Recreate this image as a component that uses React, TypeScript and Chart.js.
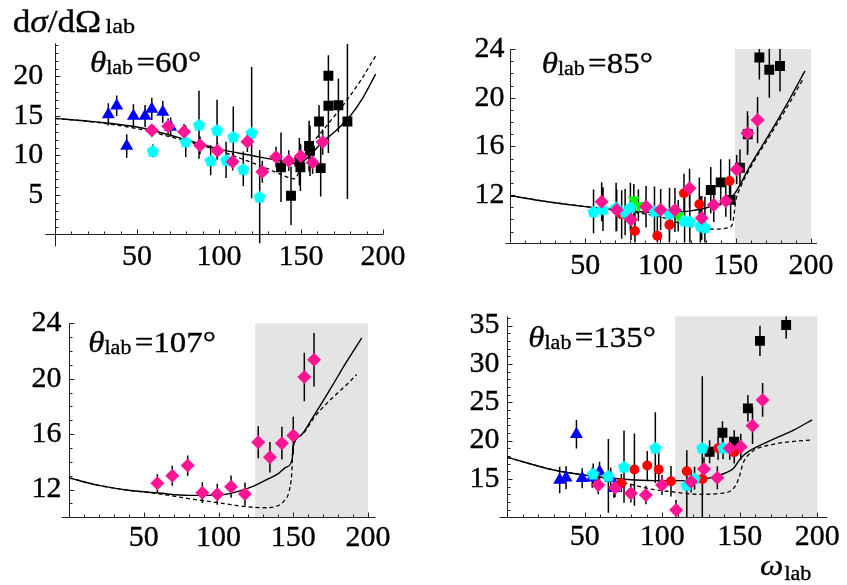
import React, { useEffect, useRef } from 'react';
import { Chart, registerables } from 'chart.js';
Chart.register(...registerables);

// ---------- Panel θ=60° ----------
const t60BlueX = [32.5, 37.6, 43.7, 47.8, 54.9, 59.0, 65.7, 70.5];
const t60BlueY = [15.2, 16.3, 11.2, 15.0, 15.0, 15.9, 15.5, 13.6];
const t60BlueErr = [1.4, 1.3, 1.5, 1.5, 1.4, 1.4, 1.4, 1.2];
const t60CyanX = [59.6, 79.7, 87.8, 94.9, 98.8, 104.3, 108.7, 114.8, 119.9, 124.8];
const t60CyanY = [10.6, 11.8, 13.9, 9.4, 13.25, 9.45, 12.4, 8.3, 12.9, 4.8];
const t60CyanErr = [0.8, 2.0, 4.3, 1.9, 3.8, 2.3, 3.8, 2.2, 8.3, 5.9];
const t60MagX = [59, 69, 78.7, 88.4, 99, 108.3, 117.3, 126.4, 134.8, 142.5, 149.8, 157.1, 163.2];
const t60MagY = [13.2, 13.7, 13.0, 11.3, 10.6, 9.2, 11.75, 7.95, 9.8, 9.35, 9.9, 9.1, 11.7];
const t60MagErr = [0.8, 1.0, 1.0, 1.1, 1.1, 1.1, 1.3, 1.4, 1.3, 1.3, 1.4, 1.4, 1.6];
const t60BlackX = [137.8, 143.9, 149.0, 149.6, 154.9, 155.5, 161.0, 162.0, 166.7, 166.7, 172.8, 178.3];
const t60BlackY = [8.5, 4.9, 9.2, 8.5, 11.2, 10.6, 14.3, 8.4, 20.1, 16.3, 16.35, 14.3];
const t60BlackErr = [4.4, 3.7, 3.0, 3.0, 3.2, 3.2, 2.1, 3.6, 2.6, 6.0, 3.4, 9.8];
const t60SolidX = [0, 25, 50, 75, 100, 120, 135, 148, 155, 162, 170, 180, 188, 195.5];
const t60SolidY = [14.7, 14.25, 13.6, 12.3, 10.8, 10.0, 9.4, 8.95, 9.9, 11.5, 12.9, 15.0, 17.4, 20.3];
const t60DashX = [0, 25, 50, 75, 100, 120, 130, 140, 146, 150, 155, 165, 178, 187, 195.5];
const t60DashY = [14.7, 14.2, 13.4, 12.1, 10.6, 9.1, 8.3, 7.4, 7.05, 8.5, 10.9, 13.6, 17.0, 19.7, 22.6];

// ---------- Panel θ=85° ----------
const t85RedX = [74.2, 83.0, 97.9, 105.9, 115.6, 125.8, 145.9];
const t85RedY = [10.4, 9.05, 8.65, 9.55, 12.15, 11.25, 13.15];
const t85RedErr = [2.0, 2.1, 2.3, 2.0, 1.6, 2.2, 1.8];
const t85CyanX = [55.5, 61.8, 70.5, 76.5, 80.0, 96.0, 106.0, 116.0, 119.5, 126.5, 129.5];
const t85CyanY = [10.65, 10.85, 11.0, 10.6, 11.0, 10.7, 10.5, 9.9, 9.85, 9.5, 9.35];
const t85CyanErr = [1.8, 1.8, 2.0, 1.9, 2.0, 2.0, 2.1, 2.0, 2.2, 2.4, 2.5];
const t85GreenX = [82.3, 85.3, 111.8];
const t85GreenY = [11.6, 11.15, 10.3];
const t85GreenErr = [1.3, 1.3, 1.3];
const t85MagX = [60.9, 70.9, 80.4, 90.4, 100.1, 109.6, 119.3, 127.4, 135.4, 143.4, 150.6, 157.8, 164.5];
const t85MagY = [11.45, 10.77, 10.0, 11.04, 10.8, 10.77, 12.55, 10.12, 11.18, 11.52, 14.1, 17.08, 18.16];
const t85MagErr = [1.6, 1.7, 1.7, 1.7, 1.7, 1.8, 1.6, 1.8, 1.4, 1.3, 1.2, 1.8, 1.9];
const t85BlackX = [133.4, 140.0, 146.6, 152.8, 158.0, 165.7, 172.3, 179.4];
const t85BlackY = [12.41, 13.04, 11.6, 14.24, 17.0, 23.3, 22.3, 22.6];
const t85BlackErr = [1.9, 1.9, 1.7, 1.5, 1.5, 1.8, 2.3, 2.1];
const t85SolidX = [0, 25, 50, 75, 100, 120, 135, 145, 149.5, 160, 172.8, 185, 196];
const t85SolidY = [11.95, 11.45, 11.05, 10.75, 10.55, 10.7, 11.1, 11.6, 12.15, 14.5, 17.1, 19.7, 22.2];
const t85DashX = [0, 25, 50, 75, 100, 115, 125, 135, 145, 148, 150, 153, 160, 172.8, 185, 195];
const t85DashY = [11.95, 11.45, 11.05, 10.7, 10.2, 9.6, 9.3, 9.2, 9.3, 9.7, 11.5, 12.6, 14.3, 16.9, 19.4, 21.6];

// ---------- Panel θ=107° ----------
const t107MagX = [59.1, 69.1, 79.4, 89.2, 99.2, 108.4, 117.7, 126.6, 134.4, 142.4, 150.0, 157.4, 163.9];
const t107MagY = [12.46, 13.0, 13.73, 11.78, 11.66, 12.21, 11.68, 15.42, 14.34, 15.35, 15.9, 20.12, 21.37];
const t107MagErr = [0.65, 0.72, 0.73, 0.75, 0.76, 0.8, 0.84, 1.15, 1.1, 1.18, 1.35, 1.75, 1.93];
const t107SolidX = [0, 20, 40, 60, 80, 100, 120, 132, 140, 145, 149.3, 149.8, 155, 163.4, 175, 185, 195.8];
const t107SolidY = [12.85, 12.3, 11.95, 11.75, 11.58, 11.6, 12.1, 12.7, 13.15, 13.6, 14.2, 15.0, 15.9, 17.27, 19.3, 21.1, 22.94];
const t107DashX = [0, 20, 40, 60, 80, 100, 118, 131, 139, 144, 147, 149, 149.8, 155, 165, 175, 185, 192.4];
const t107DashY = [12.85, 12.3, 11.95, 11.7, 11.35, 11.05, 10.77, 10.69, 10.8, 11.2, 11.8, 13.2, 15.0, 15.9, 17.35, 18.5, 19.5, 20.3];

// ---------- Panel θ=135° ----------
const t135BlueX = [33.8, 37.9, 44.6, 48.3, 54.8, 59.5, 66.7, 68.8];
const t135BlueY = [14.86, 15.16, 20.82, 15.08, 15.16, 15.95, 15.08, 13.8];
const t135BlueErr = [1.74, 1.5, 1.85, 1.3, 1.3, 1.3, 1.4, 1.3];
const t135RedX = [73.6, 82.0, 90.3, 97.7, 105.6, 115.8, 125.9, 136.0, 146.4];
const t135RedY = [14.45, 16.22, 16.75, 16.22, 14.7, 16.0, 15.0, 19.0, 18.5];
const t135RedErr = [1.2, 4.7, 1.9, 2.2, 2.0, 2.7, 2.0, 1.5, 1.5];
const t135CyanX = [55.4, 65.2, 75.3, 95.5, 115.8, 120.8, 125.8, 139.2];
const t135CyanY = [15.7, 15.4, 16.6, 19.08, 14.25, 15.08, 19.08, 19.08];
const t135CyanErr = [1.3, 4.8, 4.7, 4.6, 4.5, 1.5, 9.3, 1.5];
const t135MagX = [58.7, 69.5, 79.7, 89.4, 99.8, 108.9, 118.6, 126.9, 135.5, 143.5, 150.6, 158.2, 164.7];
const t135MagY = [14.21, 13.86, 13.13, 12.9, 14.21, 10.95, 14.64, 16.3, 15.16, 19.0, 19.2, 21.94, 25.3];
const t135MagErr = [1.2, 1.2, 1.2, 1.2, 1.3, 1.3, 1.4, 1.5, 1.5, 1.5, 1.7, 2.4, 2.2];
const t135BlackX = [130.5, 138.8, 146.4, 155.2, 163.0, 179.9];
const t135BlackY = [18.55, 21.03, 19.86, 24.2, 33.0, 35.07];
const t135BlackErr = [1.5, 1.5, 1.5, 1.74, 1.96, 1.75];
const t135SolidX = [0, 30, 52.6, 73.2, 94.8, 116.5, 129.5, 140.3, 146, 149, 151, 155.5, 170.6, 185, 196.6];
const t135SolidY = [17.82, 16.17, 15.42, 15.0, 14.78, 14.78, 15.08, 15.74, 16.4, 17.25, 17.8, 18.55, 20.08, 21.4, 22.7];
const t135DashX = [0, 30, 52.6, 73.2, 94.8, 105.6, 123, 138.1, 146.8, 150, 152, 157.6, 172.7, 185, 196.6];
const t135DashY = [17.82, 16.17, 15.4, 14.6, 13.6, 13.34, 13.0, 13.13, 14.0, 15.5, 17.0, 18.5, 19.56, 19.9, 20.08];

// tick labels
const xTickLabels = [50, 100, 150, 200];
const t60YTicks = [5, 10, 15, 20];
const t85YTicks = [12, 16, 20, 24];
const t107YTicks = [12, 16, 20, 24];
const t135YTicks = [15, 20, 25, 30, 35];

const SERIF = '"Liberation Serif", "Times New Roman", serif';
const MAIN = `30px ${SERIF}`;
const ITAL = `italic 30px ${SERIF}`;
const SUB = `20px ${SERIF}`;
const TMAIN = `32px ${SERIF}`;
const TITAL = `italic 32px ${SERIF}`;
const TSUB = `22px ${SERIF}`;
const MAG = '#ff1493';
const CYAN = '#00ffff';
const STROKE_W = 0.35;

function pts(xs: number[], ys: number[]) {
  return xs.map((x, i) => ({ x, y: ys[i] }));
}

function makePentagon(color: string, r: number) {
  const c = document.createElement('canvas');
  const s = Math.ceil(r * 2 + 2);
  c.width = s;
  c.height = s;
  const ctx = c.getContext('2d')!;
  ctx.fillStyle = color;
  ctx.beginPath();
  for (let i = 0; i < 5; i++) {
    const a = -Math.PI / 2 + (i * 2 * Math.PI) / 5;
    const px = s / 2 + r * Math.cos(a);
    const py = s / 2 + r * Math.sin(a) + r * 0.1;
    if (i) ctx.lineTo(px, py);
    else ctx.moveTo(px, py);
  }
  ctx.closePath();
  ctx.fill();
  return c;
}

function drawRich(ctx: CanvasRenderingContext2D, x: number, y: number, parts: any[]) {
  ctx.save();
  ctx.translate(x, y);
  ctx.scale(1.1, 1);
  ctx.fillStyle = '#000';
  ctx.strokeStyle = '#000';
  ctx.lineWidth = STROKE_W;
  ctx.textBaseline = 'alphabetic';
  ctx.textAlign = 'left';
  let cx = 0;
  for (const p of parts) {
    ctx.font = p.f;
    cx += p.dx || 0;
    ctx.fillText(p.t, cx, p.dy || 0);
    ctx.strokeText(p.t, cx, p.dy || 0);
    cx += ctx.measureText(p.t).width;
  }
  ctx.restore();
}

function thetaLabel(angle: string) {
  return [
    { t: 'θ', f: ITAL },
    { t: 'lab', f: SUB, dy: 2 },
    { t: '=' + angle + '°', f: MAIN, dx: 3 },
  ];
}

const AXIS_W = 44;
const AXIS_H = 60;

function buildConfig(p: any, styles: any) {
  const datasets: any[] = p.series.map((s: any) => {
    const st = styles[s.kind];
    return {
      data: pts(s.x, s.y),
      errs: s.e,
      pointStyle: st.style,
      pointRadius: st.r,
      pointHoverRadius: st.r,
      pointRotation: st.rot || 0,
      backgroundColor: st.color,
      borderColor: st.color,
      pointBorderWidth: 0,
      borderWidth: 0,
      showLine: false,
    };
  });
  datasets.push({
    data: pts(p.solid[0], p.solid[1]),
    showLine: true,
    borderColor: '#000',
    borderWidth: 1.4,
    pointRadius: 0,
    cubicInterpolationMode: 'monotone',
    fill: false,
  });
  datasets.push({
    data: pts(p.dash[0], p.dash[1]),
    showLine: true,
    borderColor: '#000',
    borderWidth: 1.3,
    borderDash: [4, 3],
    pointRadius: 0,
    cubicInterpolationMode: 'monotone',
    fill: false,
  });

  const a = p.area;
  const decor = {
    id: 'decor',
    beforeDatasetsDraw(chart: any) {
      const { ctx, chartArea: ca, scales } = chart;
      const xs = scales.x;
      const ys = scales.y;
      ctx.save();
      const ay = Math.round(ys.getPixelForValue(p.axisY)) + 0.5;
      const ax = Math.round(xs.getPixelForValue(0)) + 0.5;
      if (p.shadeFrom != null) {
        const x0 = xs.getPixelForValue(p.shadeFrom);
        const x1 = xs.getPixelForValue(200);
        ctx.fillStyle = '#e4e4e4';
        ctx.fillRect(x0, ca.top, x1 - x0, ay - ca.top);
      }
      ctx.strokeStyle = '#222';
      ctx.lineWidth = 1;
      ctx.beginPath();
      ctx.moveTo(ca.left, ay);
      ctx.lineTo(ca.right, ay);
      ctx.moveTo(ax, ca.top);
      ctx.lineTo(ax, ca.bottom);
      for (let v = 10; v <= 200; v += 10) {
        const px = Math.round(xs.getPixelForValue(v)) + 0.5;
        const len = v % 50 === 0 ? 5 : 3;
        ctx.moveTo(px, ay);
        ctx.lineTo(px, ay - len);
      }
      for (let v = Math.ceil(p.yr[0]); v <= p.yr[1]; v += 1) {
        if (v <= p.axisY) continue;
        const py = Math.round(ys.getPixelForValue(v)) + 0.5;
        const len = v % p.yMajor === 0 ? 5 : 3;
        ctx.moveTo(ax, py);
        ctx.lineTo(ax + len, py);
      }
      ctx.stroke();
      // error bars
      ctx.beginPath();
      ctx.rect(ca.left, ca.top, ca.right - ca.left, ca.bottom - ca.top);
      ctx.clip();
      ctx.strokeStyle = '#000';
      ctx.lineWidth = 1.5;
      ctx.beginPath();
      chart.data.datasets.forEach((ds: any) => {
        if (!ds.errs) return;
        ds.data.forEach((pt: any, i: number) => {
          const e = ds.errs[i];
          const px = xs.getPixelForValue(pt.x);
          ctx.moveTo(px, ys.getPixelForValue(pt.y - e));
          ctx.lineTo(px, ys.getPixelForValue(pt.y + e));
        });
      });
      ctx.stroke();
      ctx.restore();
    },
    afterDraw(chart: any) {
      const ctx = chart.ctx;
      for (const t of p.texts) drawRich(ctx, t.x, t.y, t.parts);
    },
  };

  const tickFont = { family: SERIF, size: 30 };
  return {
    type: 'scatter' as const,
    data: { datasets },
    options: {
      responsive: false,
      animation: false as const,
      events: [],
      layout: {
        padding: { left: a.l - AXIS_W, right: 847 - a.r, top: a.t, bottom: 585 - a.b - AXIS_H },
      },
      plugins: { legend: { display: false }, tooltip: { enabled: false } },
      scales: {
        x: {
          type: 'linear' as const,
          min: p.xr[0],
          max: p.xr[1],
          grid: { display: false, drawTicks: false },
          border: { display: false },
          afterBuildTicks: (s: any) => {
            s.ticks = xTickLabels.map((v) => ({ value: v }));
          },
          afterFit: (s: any) => {
            s.height = AXIS_H;
          },
          ticks: {
            autoSkip: false,
            maxRotation: 0,
            minRotation: 0,
            padding: p.xPad,
            color: '#000',
            textStrokeColor: '#000',
            textStrokeWidth: STROKE_W,
            font: tickFont,
            callback: (v: any) => String(v),
          },
        },
        y: {
          type: 'linear' as const,
          min: p.yr[0],
          max: p.yr[1],
          grid: { display: false, drawTicks: false },
          border: { display: false },
          afterBuildTicks: (s: any) => {
            s.ticks = p.yTicks.map((v: number) => ({ value: v }));
          },
          afterFit: (s: any) => {
            s.width = AXIS_W;
          },
          ticks: {
            autoSkip: false,
            padding: p.yPad,
            color: '#000',
            textStrokeColor: '#000',
            textStrokeWidth: STROKE_W,
            font: tickFont,
            callback: (v: any) => String(v),
          },
        },
      },
    },
    plugins: [decor],
  };
}

function makePanels() {
  return [
    {
      area: { l: 45.2, r: 383, t: 43.3, b: 246.35 },
      xr: [-6, 200],
      yr: [-1.5, 24.2],
      axisY: 0,
      yMajor: 5,
      yTicks: t60YTicks,
      xPad: -7.5,
      yPad: 2,
      shadeFrom: null,
      series: [
        { kind: 'mag', x: t60MagX, y: t60MagY, e: t60MagErr },
        { kind: 'cyan', x: t60CyanX, y: t60CyanY, e: t60CyanErr },
        { kind: 'blue', x: t60BlueX, y: t60BlueY, e: t60BlueErr },
        { kind: 'black', x: t60BlackX, y: t60BlackY, e: t60BlackErr },
      ],
      solid: [t60SolidX, t60SolidY],
      dash: [t60DashX, t60DashY],
      texts: [
        { x: 90, y: 71.5, parts: thetaLabel('60') },
        {
          x: 12.7,
          y: 32.3,
          parts: [
            { t: 'd', f: TMAIN },
            { t: 'σ', f: TITAL },
            { t: '/d', f: TMAIN },
            { t: 'Ω', f: TMAIN },
            { t: 'lab', f: TSUB, dx: 4, dy: 1 },
          ],
        },
      ],
    },
    {
      area: { l: 505.5, r: 817, t: 49, b: 242.5 },
      xr: [-3, 204],
      yr: [8.1, 24],
      axisY: 8.1,
      yMajor: 4,
      yTicks: t85YTicks,
      xPad: 6,
      yPad: 1,
      shadeFrom: 149.5,
      series: [
        { kind: 'mag', x: t85MagX, y: t85MagY, e: t85MagErr },
        { kind: 'cyan', x: t85CyanX, y: t85CyanY, e: t85CyanErr },
        { kind: 'green', x: t85GreenX, y: t85GreenY, e: t85GreenErr },
        { kind: 'red', x: t85RedX, y: t85RedY, e: t85RedErr },
        { kind: 'black', x: t85BlackX, y: t85BlackY, e: t85BlackErr },
      ],
      solid: [t85SolidX, t85SolidY],
      dash: [t85DashX, t85DashY],
      texts: [{ x: 541.7, y: 73.3, parts: thetaLabel('85') }],
    },
    {
      area: { l: 61.5, r: 375.5, t: 323.3, b: 517.3 },
      xr: [-5, 205],
      yr: [10, 24],
      axisY: 10,
      yMajor: 4,
      yTicks: t107YTicks,
      xPad: 3,
      yPad: 0,
      shadeFrom: 124.5,
      series: [{ kind: 'mag', x: t107MagX, y: t107MagY, e: t107MagErr }],
      solid: [t107SolidX, t107SolidY],
      dash: [t107DashX, t107DashY],
      texts: [{ x: 88.3, y: 351.7, parts: thetaLabel('107') }],
    },
    {
      area: { l: 499.55, r: 827.4, t: 316.3, b: 517.3 },
      xr: [-5, 206.5],
      yr: [10, 36.2],
      axisY: 10,
      yMajor: 5,
      yTicks: t135YTicks,
      xPad: 2,
      yPad: 0,
      shadeFrom: 108.3,
      series: [
        { kind: 'mag', x: t135MagX, y: t135MagY, e: t135MagErr },
        { kind: 'cyan', x: t135CyanX, y: t135CyanY, e: t135CyanErr },
        { kind: 'red', x: t135RedX, y: t135RedY, e: t135RedErr },
        { kind: 'blue', x: t135BlueX, y: t135BlueY, e: t135BlueErr },
        { kind: 'black', x: t135BlackX, y: t135BlackY, e: t135BlackErr },
      ],
      solid: [t135SolidX, t135SolidY],
      dash: [t135DashX, t135DashY],
      texts: [
        { x: 528.3, y: 346.7, parts: thetaLabel('135') },
        {
          x: 760,
          y: 575,
          parts: [
            { t: 'ω', f: ITAL },
            { t: 'lab', f: SUB, dx: 1, dy: 5 },
          ],
        },
      ],
    },
  ];
}

export default function App() {
  const r0 = useRef<HTMLCanvasElement>(null);
  const r1 = useRef<HTMLCanvasElement>(null);
  const r2 = useRef<HTMLCanvasElement>(null);
  const r3 = useRef<HTMLCanvasElement>(null);
  const refs = [r0, r1, r2, r3];

  useEffect(() => {
    Chart.defaults.font.family = SERIF;
    const styles = {
      mag: { style: 'rectRot', r: 7, color: MAG },
      cyan: { style: makePentagon(CYAN, 6.5), r: 6.5, color: CYAN },
      blue: { style: 'triangle', r: 7.5, color: '#0000ff' },
      red: { style: 'circle', r: 5, color: '#ff0000' },
      green: { style: 'triangle', r: 7, rot: 180, color: '#00ff00' },
      black: { style: 'rect', r: 7, color: '#000000' },
    };
    const panels = makePanels();
    const charts = panels.map((p, i) => new Chart(refs[i].current as HTMLCanvasElement, buildConfig(p, styles) as any));
    return () => charts.forEach((c) => c.destroy());
  }, []);

  return (
    <div style={{ position: 'absolute', left: 0, top: 0, width: 847, height: 585, background: '#fff', overflow: 'hidden' }}>
      {refs.map((r, i) => (
        <canvas key={i} ref={r} width={847} height={585} style={{ position: 'absolute', left: 0, top: 0 }} />
      ))}
    </div>
  );
}
